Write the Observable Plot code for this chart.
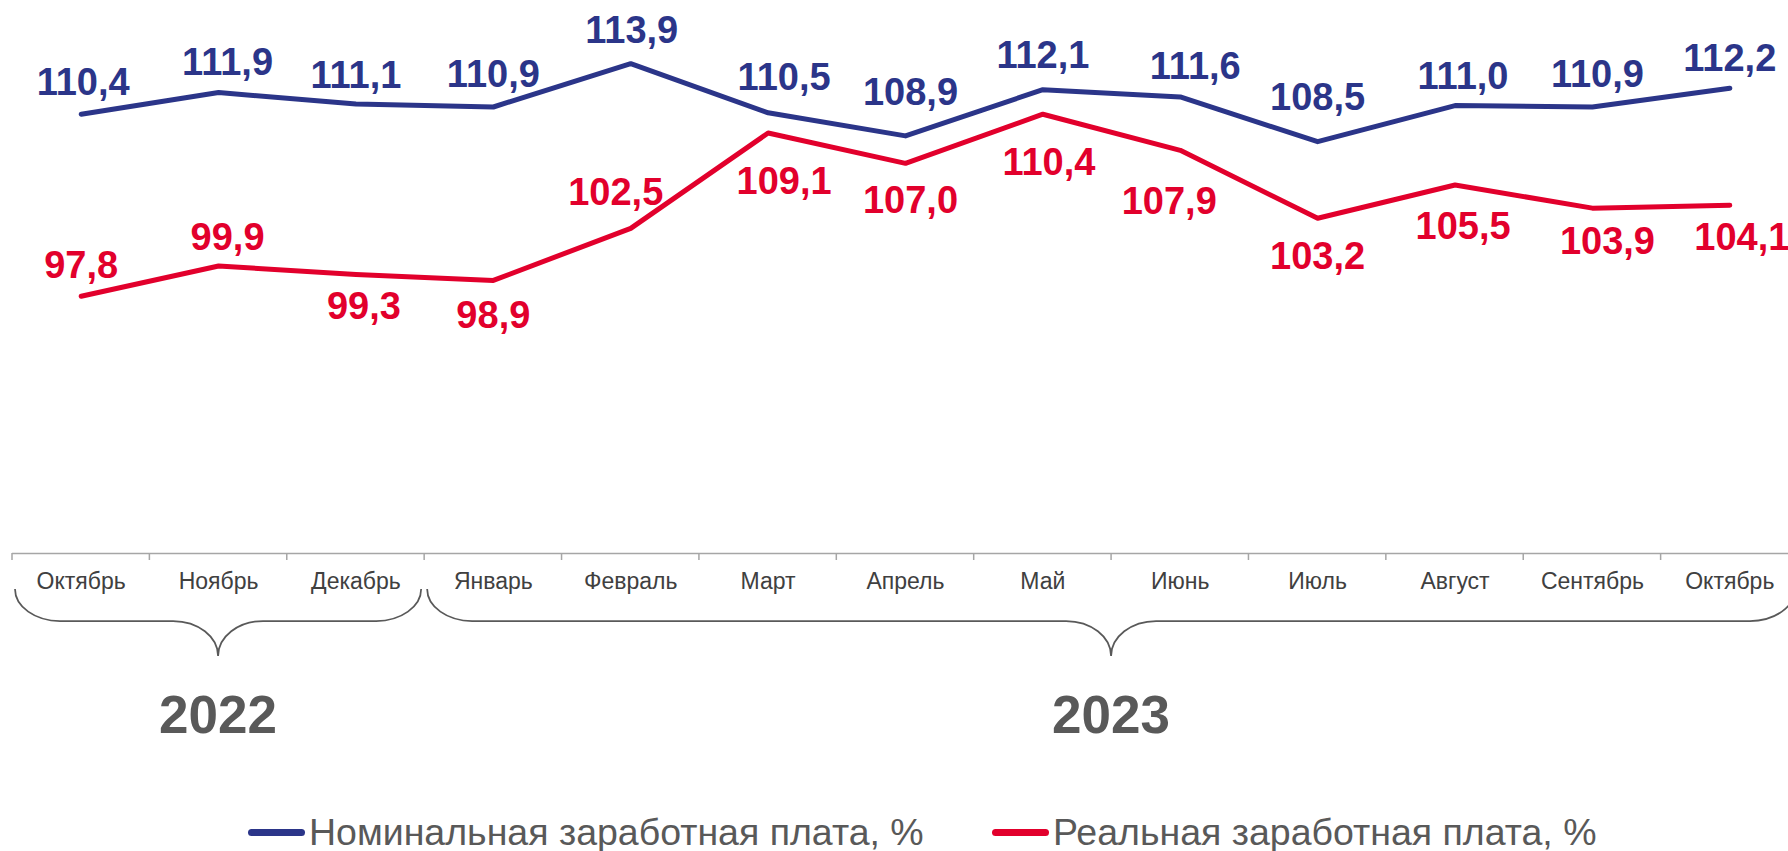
<!DOCTYPE html>
<html><head><meta charset="utf-8">
<script src="https://cdn.jsdelivr.net/npm/d3@7"></script>
<script src="https://cdn.jsdelivr.net/npm/@observablehq/plot@0.6"></script>
<style>
html,body{margin:0;padding:0;background:#fff;overflow:hidden;}
#legend{position:relative;width:1788px;height:61px;font-family:"Liberation Sans",Arial,sans-serif;font-size:37.5px;color:#595959;}
.item{position:absolute;top:23px;display:flex;align-items:center;line-height:38px;white-space:nowrap;}
.sw{width:57px;height:7px;border-radius:4px;margin-right:4px;}
</style></head><body>
<div id="chart"></div><div id="legend"></div>
<script>
// ---- data ----
const months = ["Октябрь","Ноябрь","Декабрь","Январь","Февраль","Март","Апрель","Май","Июнь","Июль","Август","Сентябрь","Октябрь"];
const years = ["2022","2022","2022","2023","2023","2023","2023","2023","2023","2023","2023","2023","2023"];
const nominal = [110.4,111.9,111.1,110.9,113.9,110.5,108.9,112.1,111.6,108.5,111.0,110.9,112.2];
const real = [97.8,99.9,99.3,98.9,102.5,109.1,107.0,110.4,107.9,103.2,105.5,103.9,104.1];
const seriesNames = ["Номинальная заработная плата, %", "Реальная заработная плата, %"];
const colors = ["#2b3589", "#e2002c"];

// ---- label placement (pixel offsets from each point) ----
const nominalLabelDx = [2,9,0,0,1,16,5,0,15,0,8,5,0];
const nominalLabelDy = [-31,-30,-28,-32,-33,-35,-43,-34,-30,-44,-29,-32,-29];
const realLabelDx = [0,9,8,0,-15,16,5,6,-11,0,8,15,12];
const realLabelDy = [-30,-28,32,35,-36,49,37,49,51,39,42,34,33];

const FONT = '"Liberation Sans", Arial, sans-serif';
const AXIS = 80;
const idx = months.map((_, i) => i);
const fmt = v => v.toFixed(1).replace(".", ",");
const yearGroups = d3.groups(idx, i => years[i]).map(([year, is]) => ({year, first: d3.min(is), last: d3.max(is)}));

function decorations(index, scales) {
  const {x, y} = scales;
  const y0 = y(AXIS);
  const g = d3.create("svg:g");
  const bounds = d3.range(months.length + 1).map(i => i - 0.5);
  g.append("g").selectAll("line").data(bounds).join("line")
    .attr("x1", d => x(d)).attr("x2", d => x(d))
    .attr("y1", y0).attr("y2", y0 + 7)
    .attr("stroke", "#a6a6a6").attr("stroke-width", 1.5);
  const yTop = y0 + 36, yMid = y0 + 68, yTip = y0 + 103;
  const rx = 45, ry = yMid - yTop, cr = 45, ct = yTip - yMid, k = 0.552;
  const bracePath = gr => {
    const x0 = x(gr.first - 0.5) + 3, x1 = x(gr.last + 0.5) - 3, xc = (x0 + x1) / 2;
    return `M${x0},${yTop} C${x0},${yTop + k*ry} ${x0 + rx - k*rx},${yMid} ${x0 + rx},${yMid}` +
      ` L${xc - cr},${yMid} C${xc - cr + k*cr},${yMid} ${xc},${yTip - k*ct} ${xc},${yTip}` +
      ` C${xc},${yTip - k*ct} ${xc + cr - k*cr},${yMid} ${xc + cr},${yMid}` +
      ` L${x1 - rx},${yMid} C${x1 - rx + k*rx},${yMid} ${x1},${yTop + k*ry} ${x1},${yTop}`;
  };
  g.append("g").selectAll("path").data(yearGroups).join("path")
    .attr("d", bracePath).attr("fill", "none")
    .attr("stroke", "#595959").attr("stroke-width", 1.75);
  g.append("g").selectAll("text").data(yearGroups).join("text")
    .attr("x", gr => (x(gr.first - 0.5) + x(gr.last + 0.5)) / 2)
    .attr("y", y0 + 161).attr("dy", "0.36em")
    .attr("text-anchor", "middle")
    .attr("font-family", FONT).attr("font-size", 53).attr("font-weight", "bold")
    .attr("fill", "#595959")
    .text(gr => gr.year);
  return g.node();
}

const labelMarks = (vals, dxs, dys, color) => idx.map(i => Plot.text([i], {
  x: d => d, y: d => vals[d], text: d => fmt(vals[d]),
  dx: dxs[i], dy: dys[i], fill: color, fontSize: 38, fontWeight: "bold"
}));

const chart = Plot.plot({
  width: 1788, height: 790,
  marginLeft: 12, marginRight: 0, marginTop: 0, marginBottom: 0,
  x: {type: "linear", domain: [-0.5, months.length - 0.5], range: [12, 1798], axis: null},
  y: {domain: [80, 120], range: [553, -25], axis: null},
  style: {fontFamily: FONT, background: "white", overflow: "hidden"},
  marks: [
    Plot.ruleY([AXIS], {stroke: "#a6a6a6", strokeWidth: 1.5}),
    decorations,
    Plot.text(idx, {x: d => d, y: () => AXIS, text: d => months[d], dy: 28, fontSize: 23, fill: "#404040"}),
    Plot.line(idx, {x: d => d, y: d => nominal[d], stroke: colors[0], strokeWidth: 5, strokeLinecap: "round"}),
    Plot.line(idx, {x: d => d, y: d => real[d], stroke: colors[1], strokeWidth: 5, strokeLinecap: "round"}),
    ...labelMarks(nominal, nominalLabelDx, nominalLabelDy, colors[0]),
    ...labelMarks(real, realLabelDx, realLabelDy, colors[1])
  ]
});
document.getElementById("chart").appendChild(chart);

const legend = document.getElementById("legend");
const legendLeft = [248, 992];
seriesNames.forEach((name, i) => {
  const item = document.createElement("div");
  item.className = "item";
  item.style.left = legendLeft[i] + "px";
  const sw = document.createElement("span");
  sw.className = "sw";
  sw.style.background = colors[i];
  const t = document.createElement("span");
  t.textContent = name;
  item.appendChild(sw); item.appendChild(t);
  legend.appendChild(item);
});
</script>
</body></html>
